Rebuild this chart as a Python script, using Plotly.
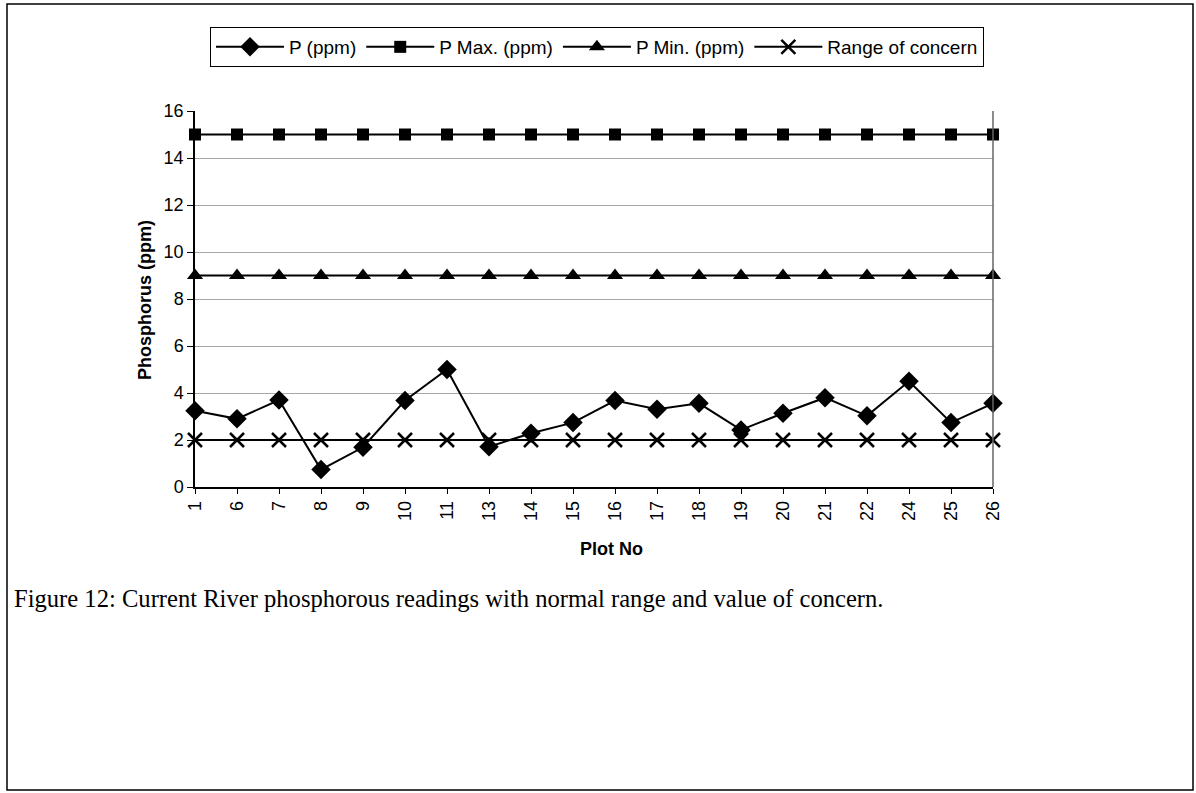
import plotly.graph_objects as go

# Plot numbers along the river and phosphorus readings (ppm)
plot_no = ["1", "6", "7", "8", "9", "10", "11", "13", "14", "15",
           "16", "17", "18", "19", "20", "21", "22", "24", "25", "26"]
p_ppm = [3.25, 2.9, 3.7, 0.74, 1.69, 3.68, 5.0, 1.71, 2.29, 2.74,
         3.68, 3.31, 3.56, 2.43, 3.14, 3.8, 3.03, 4.5, 2.74, 3.56]
p_max = [15] * len(plot_no)
p_min = [9] * len(plot_no)
concern = [2] * len(plot_no)

y_ticks = [0, 2, 4, 6, 8, 10, 12, 14, 16]

L, R, T, B = 195, 203, 111, 306
W, H = 1196, 793
pw, ph = W - L - R, H - T - B


def px_x(x):
    return (x - L) / pw


def px_y(y):
    return (H - B - y) / ph


series = [
    ("P (ppm)", p_ppm, "diamond", 15, 0),
    ("P Max. (ppm)", p_max, "square", 12, 0),
    ("P Min. (ppm)", p_min, "triangle-up", 14, 0),
    ("Range of concern", concern, "x-thin", 14, 2.5),
]

fig = go.Figure()
for name, vals, sym, size, lw in series:
    fig.add_trace(go.Scatter(
        x=plot_no, y=vals, name=name, mode="lines+markers",
        line=dict(color="black", width=2),
        marker=dict(symbol=sym, size=size, color="black",
                    line=dict(color="black", width=lw)),
        cliponaxis=False,
    ))

font = "Liberation Sans, Arial, sans-serif"

fig.update_layout(
    width=W, height=H,
    margin=dict(l=L, r=R, t=T, b=B),
    paper_bgcolor="white", plot_bgcolor="white",
    font=dict(family=font, size=18, color="black"),
    showlegend=True,
    legend=dict(
        orientation="h", x=px_x(597), y=px_y(27),
        xanchor="center", yanchor="top",
        bordercolor="black", borderwidth=1,
        font=dict(size=19), itemwidth=68,
        tracegroupgap=0,
    ),
    xaxis=dict(
        type="category", range=[0, len(plot_no) - 1],
        showline=True, linecolor="black", linewidth=1.5,
        ticks="outside", ticklen=5, tickcolor="black",
        tickangle=-90, tickfont=dict(size=18),
        showgrid=False, zeroline=False,
    ),
    yaxis=dict(
        range=[0, 16], tickvals=y_ticks,
        showline=True, linecolor="black", linewidth=1.5,
        ticks="outside", ticklen=6, tickcolor="black",
        tickfont=dict(size=18),
        showgrid=True, gridcolor="#a8a8a8", gridwidth=1,
        zeroline=False,
    ),
    shapes=[
        # right edge of the plotting area
        dict(type="line", xref="paper", yref="paper", x0=1, x1=1, y0=0, y1=1,
             line=dict(color="#666666", width=1.5)),
        # frame around chart and caption
        dict(type="rect", xref="paper", yref="paper",
             x0=px_x(7), x1=px_x(1193), y0=px_y(790), y1=px_y(4),
             line=dict(color="black", width=1.5)),
    ],
    annotations=[
        dict(text="<b>Phosphorus (ppm)</b>", textangle=-90,
             xref="paper", yref="paper", x=px_x(145), y=px_y(300),
             xanchor="center", yanchor="middle", showarrow=False,
             font=dict(size=18)),
        dict(text="<b>Plot No</b>",
             xref="paper", yref="paper", x=px_x(611), y=px_y(549),
             xanchor="center", yanchor="middle", showarrow=False,
             font=dict(size=18)),
        dict(text="Figure 12: Current River phosphorous readings with normal range and value of concern.",
             xref="paper", yref="paper", x=px_x(12), y=px_y(598),
             xanchor="left", yanchor="middle", showarrow=False,
             font=dict(family="Liberation Serif, Times New Roman, serif", size=24.6, color="black")),
    ],
)

fig.write_html("out.html")
